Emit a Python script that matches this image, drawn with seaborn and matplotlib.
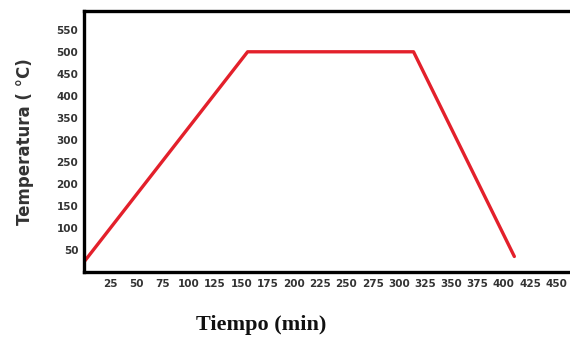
import matplotlib
matplotlib.use("Agg")
import matplotlib.pyplot as plt
import seaborn as sns
import pandas as pd

tiempo = [0, 156, 314, 410]
temperatura = [22, 500, 500, 35]
yticks = [50, 100, 150, 200, 250, 300, 350, 400, 450, 500, 550]
xticks = [25, 50, 75, 100, 125, 150, 175, 200, 225, 250, 275, 300, 325, 350, 375, 400, 425, 450]

sns.set_style("white")
df = pd.DataFrame({"Tiempo": tiempo, "Temperatura": temperatura})

fig = plt.figure(figsize=(5.7, 3.39), dpi=100)
ax = fig.add_axes([0.147, 0.198, 0.853, 0.77])
sns.lineplot(data=df, x="Tiempo", y="Temperatura", ax=ax, color="#e3202b",
             linewidth=2.4, sort=False)
ax.set_xlim(0, 463)
ax.set_ylim(0, 593)
ax.set_yticks(yticks)
ax.set_xticks(xticks)
ax.set_yticklabels([str(v) for v in yticks], fontsize=7.5, fontweight="bold", color="#333333")
ax.set_xticklabels([str(v) for v in xticks], fontsize=7.5, fontweight="bold", color="#333333")
ax.tick_params(axis="y", length=3, width=1, color="#555555", pad=1)
ax.tick_params(axis="x", length=0, pad=5)
for s in ["left", "top", "bottom"]:
    ax.spines[s].set_color("black")
    ax.spines[s].set_linewidth(2.4)
ax.spines["right"].set_visible(False)
ax.set_xlabel("")
ax.set_ylabel("Temperatura ( °C)", fontsize=12, fontweight="bold", color="#333333", labelpad=16)
fig.text(0.458, 0.04, "Tiempo (min)", fontsize=16, fontweight="bold",
         family="Liberation Serif", ha="center", va="center", color="#111111")
fig.savefig("out.png", dpi=100)
